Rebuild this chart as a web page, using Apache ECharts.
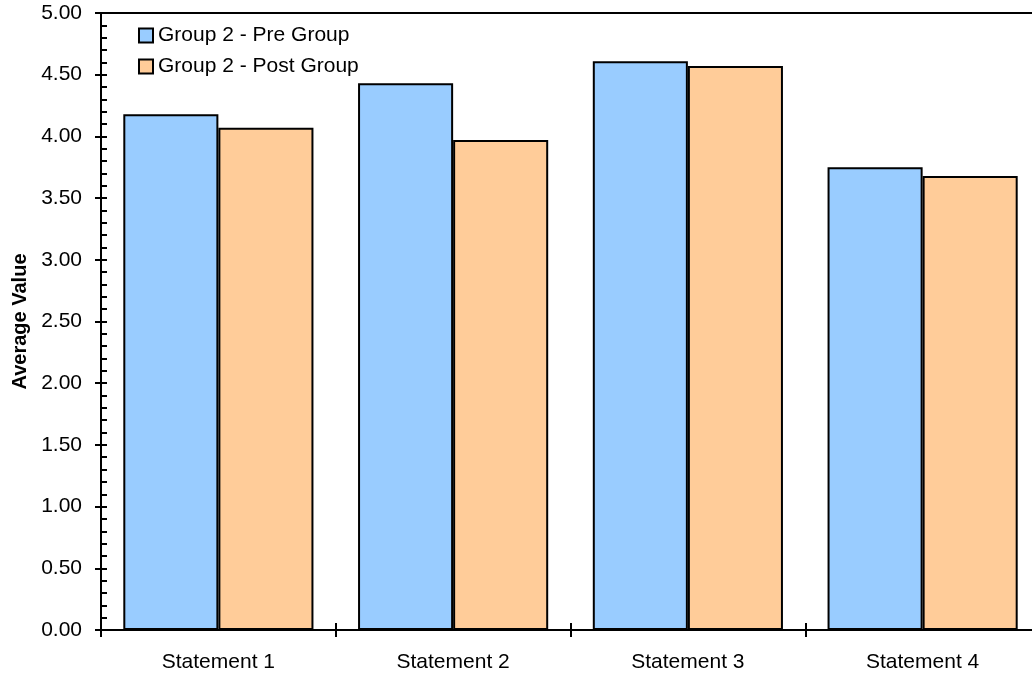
<!DOCTYPE html>
<html>
<head>
<meta charset="utf-8">
<script src="https://cdn.jsdelivr.net/npm/echarts@6/dist/echarts.min.js"></script>
<style>
  html, body { margin: 0; padding: 0; background: #fff; }
  #chart { width: 1032px; height: 677px; }
</style>
</head>
<body>
<div id="chart"></div>
<script>
// Average responses per statement, before and after the group sessions
const categories = ['Statement 1', 'Statement 2', 'Statement 3', 'Statement 4'];
const preGroup = [4.18, 4.43, 4.61, 3.75];
const postGroup = [4.07, 3.97, 4.57, 3.68];
const seriesNames = ['Group 2 - Pre Group', 'Group 2 - Post Group'];
const yTitle = 'Average Value';

const FONT = '"Liberation Sans", Arial, sans-serif';
const AXIS_LINE = { show: true, lineStyle: { color: '#000', width: 2 } };

const chart = echarts.init(document.getElementById('chart'), null, { renderer: 'canvas' });

chart.setOption({
  animation: false,
  backgroundColor: '#fff',
  grid: {
    // plot runs slightly past the right edge of the canvas
    left: 101, top: 13, width: 939, height: 617,
    outerBoundsMode: 'none', containLabel: false,
    show: true, borderColor: '#000', borderWidth: 2, backgroundColor: 'transparent'
  },
  legend: {
    orient: 'vertical',
    left: 138, top: 25, padding: 0,
    itemWidth: 14, itemHeight: 14, itemGap: 10,
    icon: 'rect',
    textStyle: { fontFamily: FONT, fontSize: 21, color: '#000' },
    data: seriesNames
  },
  xAxis: [
    {
      // outer half of the boundary ticks plus labels
      type: 'category', data: categories, boundaryGap: true,
      axisLine: AXIS_LINE,
      axisTick: { show: true, length: 7, lineStyle: { color: '#000', width: 2 } },
      axisLabel: { fontFamily: FONT, fontSize: 21, color: '#000', margin: 22 },
      splitLine: { show: false }
    },
    {
      // inner half of the boundary ticks
      type: 'category', data: categories, boundaryGap: true, position: 'bottom',
      axisLine: { show: false },
      axisTick: { show: true, inside: true, length: 7, lineStyle: { color: '#000', width: 2 } },
      axisLabel: { show: false },
      splitLine: { show: false }
    }
  ],
  yAxis: [
    {
      type: 'value', min: 0, max: 5, interval: 0.5,
      name: yTitle, nameLocation: 'middle', nameGap: 71, nameRotate: 90,
      nameTextStyle: { fontFamily: FONT, fontSize: 20, fontWeight: 'bold', color: '#000' },
      axisLine: AXIS_LINE,
      axisTick: { show: true, length: 6, lineStyle: { color: '#000', width: 2 } },
      axisLabel: {
        fontFamily: FONT, fontSize: 21, color: '#000', margin: 19,
        formatter: v => v.toFixed(2)
      },
      splitLine: { show: false }
    },
    {
      // inner major ticks and the minor ticks every 0.1
      type: 'value', min: 0, max: 5, interval: 0.5, position: 'left',
      axisLine: { show: false },
      axisTick: { show: true, inside: true, length: 6, lineStyle: { color: '#000', width: 2 } },
      minorTick: { show: true, splitNumber: 5, length: 6, lineStyle: { color: '#000', width: 2 } },
      axisLabel: { show: false },
      splitLine: { show: false }
    }
  ],
  series: [
    {
      name: seriesNames[0], type: 'bar', data: preGroup,
      barGap: '0%', barCategoryGap: '19%',
      itemStyle: { color: '#99CCFF', borderColor: '#000', borderWidth: 2 }
    },
    {
      name: seriesNames[1], type: 'bar', data: postGroup,
      barGap: '0%', barCategoryGap: '19%',
      itemStyle: { color: '#FFCC99', borderColor: '#000', borderWidth: 2 }
    }
  ]
});
</script>
</body>
</html>
